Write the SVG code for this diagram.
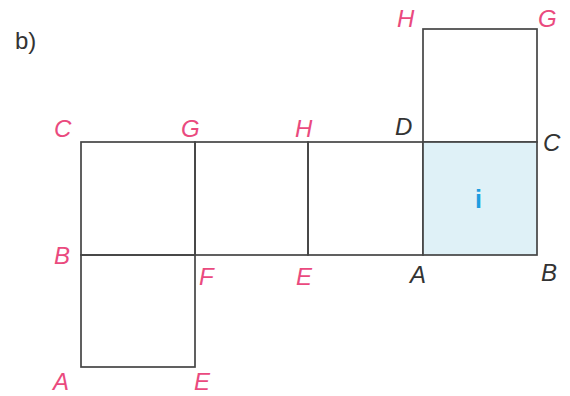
<svg xmlns="http://www.w3.org/2000/svg" width="570" height="396" viewBox="0 0 570 396">
<style>
.face{fill:none;stroke:#454545;stroke-width:1.7}
.shade{fill:#dff1f7;stroke:#454545;stroke-width:1.7}
.lbl{font-family:"Liberation Sans",Arial,sans-serif;font-style:italic;font-size:24px}
.p{fill:#ea4a7e}
.k{fill:#333}
</style>
<rect width="570" height="396" fill="#fff"/>
<text x="15" y="49" font-family="Liberation Sans,Arial,sans-serif" font-size="24" fill="#333">b)</text>
<g id="faces">
<g id="face-top"><rect class="face" x="423" y="29" width="114" height="113"/></g>
<g id="face-1"><rect class="face" x="81" y="142" width="114" height="113"/></g>
<g id="face-2"><rect class="face" x="195" y="142" width="113" height="113"/></g>
<g id="face-3"><rect class="face" x="308" y="142" width="115" height="113"/></g>
<g id="face-i"><rect class="shade" x="423" y="142" width="114" height="113"/>
<text x="478.5" y="208" text-anchor="middle" font-family="Liberation Sans,Arial,sans-serif" font-weight="bold" font-size="25" fill="#1e9de0">i</text></g>
<g id="face-bottom"><rect class="face" x="81" y="255" width="114" height="112"/></g>
</g>
<g id="connectors"></g>
<g id="labels" class="lbl">
<text class="p" x="397" y="27">H</text>
<text class="p" x="538" y="27">G</text>
<text class="k" x="395" y="135">D</text>
<text class="k" x="543" y="151">C</text>
<text class="p" x="54" y="137">C</text>
<text class="p" x="181" y="137">G</text>
<text class="p" x="295" y="137">H</text>
<text class="p" x="54" y="264">B</text>
<text class="p" x="199" y="285">F</text>
<text class="p" x="296" y="285">E</text>
<text class="k" x="410" y="283">A</text>
<text class="k" x="541" y="281">B</text>
<text class="p" x="53" y="390">A</text>
<text class="p" x="194" y="390">E</text>
</g>
</svg>
